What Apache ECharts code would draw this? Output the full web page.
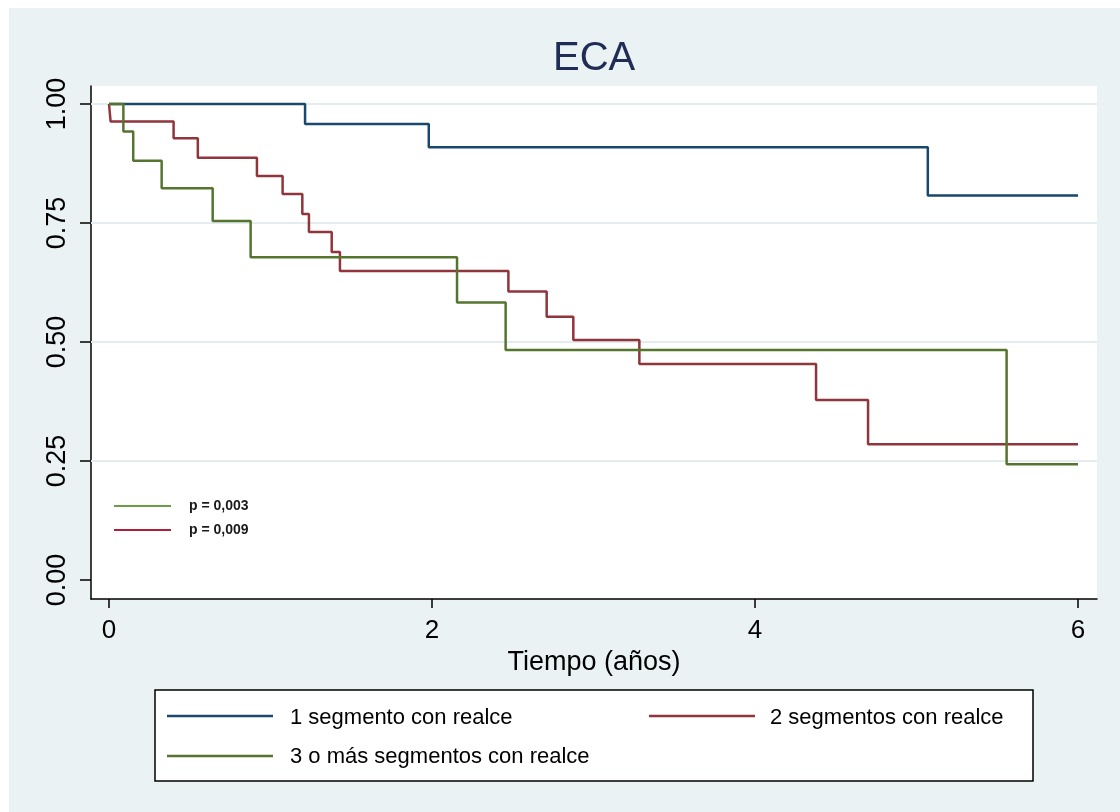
<!DOCTYPE html>
<html>
<head>
<meta charset="utf-8">
<script src="https://cdn.jsdelivr.net/npm/echarts@6/dist/echarts.min.js"></script>
<style>
html,body{margin:0;padding:0;background:#fff;}
#chart{width:1120px;height:812px;}
</style>
</head>
<body>
<div id="chart"></div>
<script>
// ---- data ----
const seriesNames = ['1 segmento con realce', '2 segmentos con realce', '3 o más segmentos con realce'];
const times1 = [0, 1.214, 1.98, 5.07, 6.0];
const surv1  = [1.0, 0.958, 0.909, 0.808, 0.808];
const times2 = [0, 0.01, 0.40, 0.55, 0.916, 1.075, 1.197, 1.238, 1.379, 1.43, 2.473, 2.71, 2.875, 3.284, 4.378, 4.70, 6.0];
const surv2  = [1.0, 0.963, 0.928, 0.887, 0.849, 0.811, 0.769, 0.731, 0.689, 0.649, 0.606, 0.553, 0.504, 0.454, 0.378, 0.285, 0.285];
const times3 = [0, 0.089, 0.15, 0.326, 0.642, 0.877, 2.155, 2.456, 5.558, 6.0];
const surv3  = [1.0, 0.942, 0.881, 0.823, 0.754, 0.678, 0.583, 0.483, 0.243, 0.243];
const xTicks = [0, 2, 4, 6];
const yTicks = [0, 0.25, 0.5, 0.75, 1.0];
const yGrid = [0.25, 0.5, 0.75, 1.0];
const pLabels = ['p = 0,003', 'p = 0,009'];
const titleText = 'ECA';
const xTitle = 'Tiempo (años)';

const colors = ['#1a476f', '#90353b', '#55752f'];
const FONT = "'Liberation Sans', Arial, sans-serif";

function pairs(t, s) { return t.map((v, i) => [v, s[i]]); }

const chart = echarts.init(document.getElementById('chart'), null, {renderer: 'canvas'});

const GL = 91, GT = 86, GR = 1097, GB = 599;

const option = {
  backgroundColor: '#eaf2f3',
  animation: false,
  title: {
    text: titleText,
    left: 553, top: 39, padding: 0,
    textStyle: {fontFamily: FONT, fontSize: 40, fontWeight: 'normal', color: '#1f2d56'}
  },
  grid: {
    left: GL, top: GT, right: 1120 - GR, bottom: 812 - GB,
    show: true, backgroundColor: '#ffffff', borderWidth: 0
  },
  xAxis: {
    type: 'value',
    min: -18 / 161.5, max: 6 + 19 / 161.5,
    name: xTitle, nameLocation: 'middle', nameGap: 47,
    nameTextStyle: {fontFamily: FONT, fontSize: 27, color: '#000'},
    axisLine: {show: true, onZero: false, lineStyle: {color: '#000', width: 1.5}},
    axisTick: {show: true, length: 9, customValues: xTicks, lineStyle: {color: '#000', width: 1.5}},
    axisLabel: {customValues: xTicks, margin: 19, fontFamily: FONT, fontSize: 26, color: '#000',
      formatter: v => String(v)},
    splitLine: {show: false}
  },
  yAxis: {
    type: 'value',
    min: -19 / 476, max: 1 + 18 / 476,
    axisLine: {show: true, onZero: false, lineStyle: {color: '#000', width: 1.5}},
    axisTick: {show: true, length: 11, customValues: yTicks, lineStyle: {color: '#000', width: 1.5}},
    axisLabel: {customValues: yTicks, rotate: 90, margin: 20, fontFamily: FONT, fontSize: 27, color: '#000',
      formatter: v => v.toFixed(2)},
    splitLine: {show: false}
  },
  series: [
    {
      type: 'line', data: [], z: 1, silent: true,
      markLine: {
        z: 1, silent: true, symbol: 'none', label: {show: false},
        lineStyle: {color: '#e3ecef', width: 2, type: 'solid'},
        data: yGrid.map(v => ({yAxis: v}))
      }
    },
    {name: seriesNames[0], type: 'line', step: 'end', showSymbol: false, z: 3,
      data: pairs(times1, surv1), lineStyle: {color: colors[0], width: 2.5}, itemStyle: {color: colors[0]}},
    {name: seriesNames[1], type: 'line', step: 'end', showSymbol: false, z: 4,
      data: pairs(times2, surv2), lineStyle: {color: colors[1], width: 2.5}, itemStyle: {color: colors[1]}},
    {name: seriesNames[2], type: 'line', step: 'end', showSymbol: false, z: 5,
      data: pairs(times3, surv3), lineStyle: {color: colors[2], width: 2.5}, itemStyle: {color: colors[2]}}
  ],
  graphic: [
    // white page border strips
    {type: 'rect', left: 0, top: 0, shape: {width: 1120, height: 8}, style: {fill: '#fff'}, z: 0, silent: true},
    {type: 'rect', left: 0, top: 0, shape: {width: 9, height: 812}, style: {fill: '#fff'}, z: 0, silent: true},
    // inner p-value key
    {type: 'line', shape: {x1: 114, y1: 506, x2: 171, y2: 506}, style: {stroke: '#6c9c48', lineWidth: 2}, z: 10},
    {type: 'text', x: 189, y: 506, style: {text: pLabels[0], fontFamily: FONT, fontSize: 14, fontWeight: 'bold', fill: '#1a1a1a', verticalAlign: 'middle'}, z: 10},
    {type: 'line', shape: {x1: 114, y1: 530, x2: 171, y2: 530}, style: {stroke: '#b01f3a', lineWidth: 2}, z: 10},
    {type: 'text', x: 189, y: 530, style: {text: pLabels[1], fontFamily: FONT, fontSize: 14, fontWeight: 'bold', fill: '#1a1a1a', verticalAlign: 'middle'}, z: 10},
    // bottom legend box
    {type: 'rect', shape: {x: 155, y: 690, width: 878, height: 91}, style: {fill: '#fff', stroke: '#000', lineWidth: 1.5}, z: 10},
    {type: 'line', shape: {x1: 167, y1: 716, x2: 273, y2: 716}, style: {stroke: colors[0], lineWidth: 2.5}, z: 11},
    {type: 'text', x: 290, y: 718, style: {text: seriesNames[0], fontFamily: FONT, fontSize: 22, fill: '#000', verticalAlign: 'middle'}, z: 11},
    {type: 'line', shape: {x1: 649, y1: 716, x2: 755, y2: 716}, style: {stroke: colors[1], lineWidth: 2.5}, z: 11},
    {type: 'text', x: 770, y: 718, style: {text: seriesNames[1], fontFamily: FONT, fontSize: 22, fill: '#000', verticalAlign: 'middle'}, z: 11},
    {type: 'line', shape: {x1: 167, y1: 756, x2: 273, y2: 756}, style: {stroke: colors[2], lineWidth: 2.5}, z: 11},
    {type: 'text', x: 290, y: 757, style: {text: seriesNames[2], fontFamily: FONT, fontSize: 22, fill: '#000', verticalAlign: 'middle'}, z: 11}
  ]
};
chart.setOption(option);
</script>
</body>
</html>
